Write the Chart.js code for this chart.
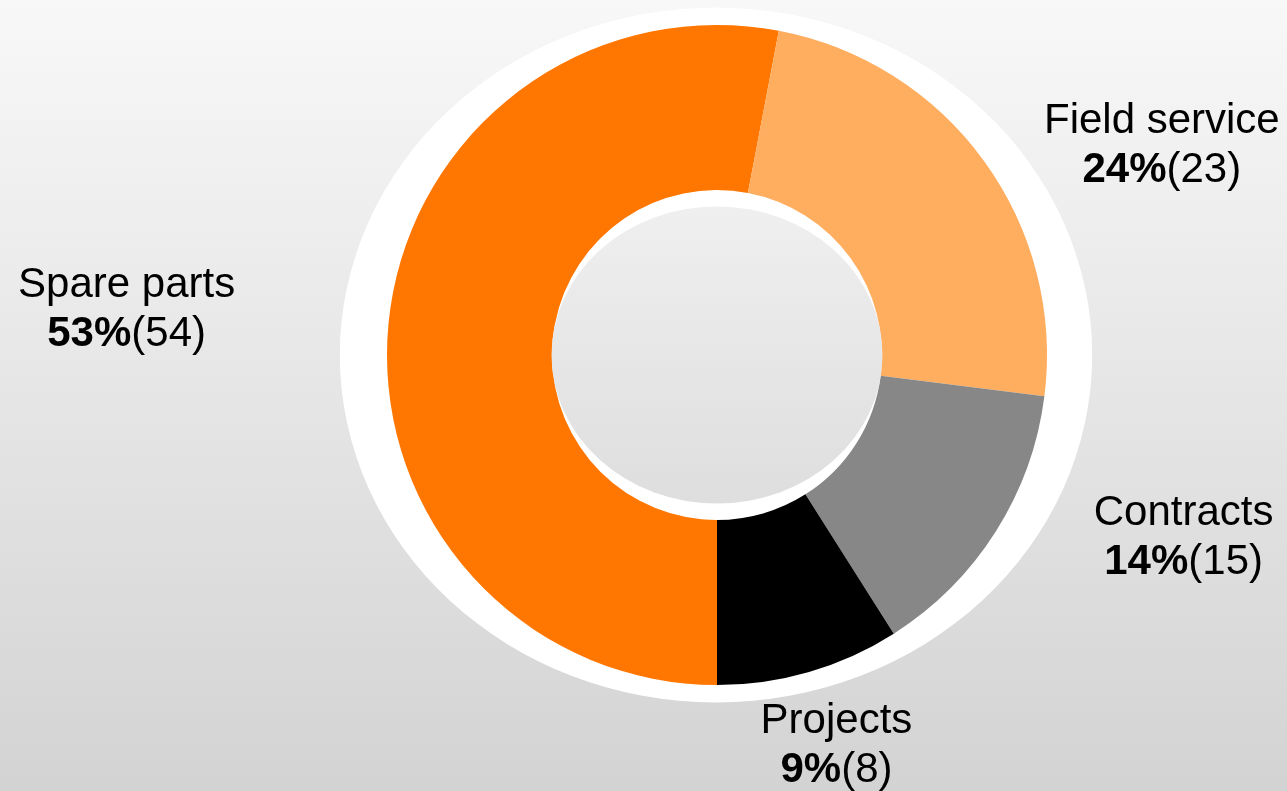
<!DOCTYPE html>
<html>
<head>
<meta charset="utf-8">
<title>Service revenue split</title>
<script src="https://cdn.jsdelivr.net/npm/chart.js@4"></script>
<style>
  html, body { margin: 0; padding: 0; }
  body {
    width: 1287px; height: 791px; overflow: hidden;
    background: linear-gradient(to bottom, #f8f8f8 0%, #d3d3d3 100%);
  }
  #wrap { position: relative; width: 1287px; height: 791px; }
</style>
</head>
<body>
<div id="wrap"><canvas id="chart"></canvas></div>
<script>
  // Data (percent shares drive the slices, counts shown in brackets)
  const categories = ['Spare parts', 'Field service', 'Contracts', 'Projects'];
  const shares = [53, 24, 14, 9];
  const counts = [54, 23, 15, 8];
  const colors = ['#ff7700', '#ffad5f', '#878787', '#000000'];

  // label anchor, in units of the outer radius, from the doughnut centre
  const labelPos = [[-1.789, -0.176], [1.348, -0.673], [1.414, 0.515], [0.362, 1.145]];

  const FONT = '"Liberation Sans", Arial, sans-serif';
  const SIZE = 42;

  // white halo behind the ring + grey disc in the hole
  const decor = {
    id: 'decor',
    beforeDatasetsDraw(chart){
      const arc = chart.getDatasetMeta(0).data[0];
      if (!arc) return;
      const ctx = chart.ctx, r = arc.outerRadius;
      ctx.save();
      ctx.fillStyle = '#ffffff';
      ctx.beginPath();
      ctx.ellipse(arc.x - 1, arc.y, r * 1.14, r * 1.053, 0, 0, Math.PI * 2);
      ctx.fill();
      ctx.restore();
    },
    afterDatasetsDraw(chart){
      const arc = chart.getDatasetMeta(0).data[0];
      if (!arc) return;
      const ctx = chart.ctx, ri = arc.innerRadius;
      const ry = ri * 0.9;
      ctx.save();
      const g = ctx.createLinearGradient(0, arc.y - ry, 0, arc.y + ry);
      g.addColorStop(0, '#efefef');
      g.addColorStop(1, '#dedede');
      ctx.fillStyle = g;
      ctx.beginPath();
      ctx.ellipse(arc.x, arc.y, ri + 0.5, ry, 0, 0, Math.PI * 2);
      ctx.fill();

      // labels
      const r = arc.outerRadius;
      const reg = SIZE + 'px ' + FONT;
      const bold = 'bold ' + SIZE + 'px ' + FONT;
      ctx.fillStyle = '#000';
      ctx.textBaseline = 'alphabetic';
      categories.forEach((name, i) => {
        const cx = arc.x + labelPos[i][0] * r;
        const by = arc.y + labelPos[i][1] * r;
        ctx.font = reg;
        ctx.textAlign = 'center';
        ctx.fillText(name, cx, by);

        const pct = shares[i] + '%';
        const cnt = '(' + counts[i] + ')';
        ctx.font = bold;
        const w1 = ctx.measureText(pct).width;
        ctx.font = reg;
        const w2 = ctx.measureText(cnt).width;
        const x0 = cx - (w1 + w2) / 2;
        ctx.textAlign = 'left';
        ctx.font = bold;
        ctx.fillText(pct, x0, by + 49);
        ctx.font = reg;
        ctx.fillText(cnt, x0 + w1, by + 49);
      });
      ctx.restore();
    }
  };

  new Chart(document.getElementById('chart'), {
    type: 'doughnut',
    data: {
      labels: categories,
      datasets: [{
        data: shares,
        backgroundColor: colors,
        borderWidth: 0,
        hoverOffset: 0
      }]
    },
    options: {
      responsive: true,
      maintainAspectRatio: false,
      animation: false,
      rotation: 180,
      cutout: '50%',
      layout: { padding: { left: 387, right: 240, top: 25, bottom: 106 } },
      plugins: {
        legend: { display: false },
        tooltip: { enabled: false }
      }
    },
    plugins: [decor]
  });
</script>
</body>
</html>
